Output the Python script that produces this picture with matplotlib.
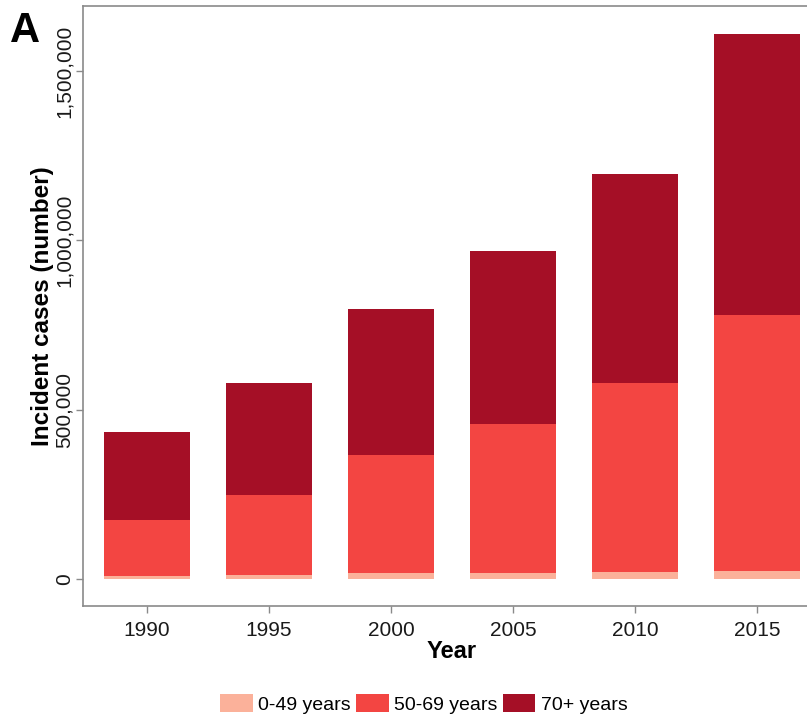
import matplotlib
matplotlib.use("Agg")
import matplotlib.pyplot as plt
import numpy as np
from matplotlib.patches import Patch
from matplotlib.ticker import FuncFormatter

plt.rcParams['font.family'] = ['Liberation Sans', 'DejaVu Sans']

years = ["1990", "1995", "2000", "2005", "2010", "2015"]
age_groups = ["0-49 years", "50-69 years", "70+ years"]
cases_0_49 = [10000, 12000, 16000, 18000, 21000, 24000]
cases_50_69 = [164000, 236000, 350000, 440000, 558000, 755000]
cases_70_plus = [260000, 331000, 431000, 510000, 617000, 830000]
colors = ["#FBB19A", "#F34542", "#A50F26"]

fig = plt.figure(figsize=(8.07, 7.2), dpi=100)
W, H = 807, 720
left, right, top, bottom = 83, 821, 6, 606
ax = fig.add_axes([left / W, 1 - bottom / H, (right - left) / W, (bottom - top) / H])

x = np.arange(1, len(years) + 1)
series = [cases_0_49, cases_50_69, cases_70_plus]
base = np.zeros(len(years))
for vals, c in zip(series, colors):
    ax.bar(x, vals, width=0.7, bottom=base, color=c, edgecolor='none')
    base += np.array(vals)

ax.set_xlim(1 - 0.525, 6 + 0.525)
ax.set_ylim(-80000, 1692000)
ax.set_xticks(x)
ax.set_xticklabels(years)
ax.set_yticks([0, 500000, 1000000, 1500000])
ax.yaxis.set_major_formatter(FuncFormatter(lambda v, p: f"{int(v):,}"))
for lab in ax.get_yticklabels():
    lab.set_rotation(90)
    lab.set_va('center')

for s in ['left', 'bottom', 'top', 'right']:
    ax.spines[s].set_color('#8a8a8a')
    ax.spines[s].set_linewidth(1.2)
ax.tick_params(axis='both', colors='#8a8a8a', labelcolor='#1a1a1a', labelsize=15, length=5, width=1)
ax.tick_params(axis='x', pad=6)
ax.tick_params(axis='y', pad=1.5)
ax.set_xlabel("Year", fontsize=17, fontweight='bold', labelpad=0)
ax.set_ylabel("Incident cases (number)", fontsize=17.5, fontweight='bold', labelpad=1)

fig.text(10 / W, 1 - 31 / H, "A", fontsize=30, fontweight='bold', va='center', ha='left')

handles = [Patch(facecolor=c, edgecolor='none') for c in colors]
fig.legend(handles, age_groups, loc='center', bbox_to_anchor=(424 / W, 1 - 704 / H),
           ncol=3, frameon=False, fontsize=14, handlelength=1.65, handleheight=1.05,
           handletextpad=0.28, columnspacing=0.3, borderaxespad=0, borderpad=0)

fig.savefig("out.png", dpi=100)
